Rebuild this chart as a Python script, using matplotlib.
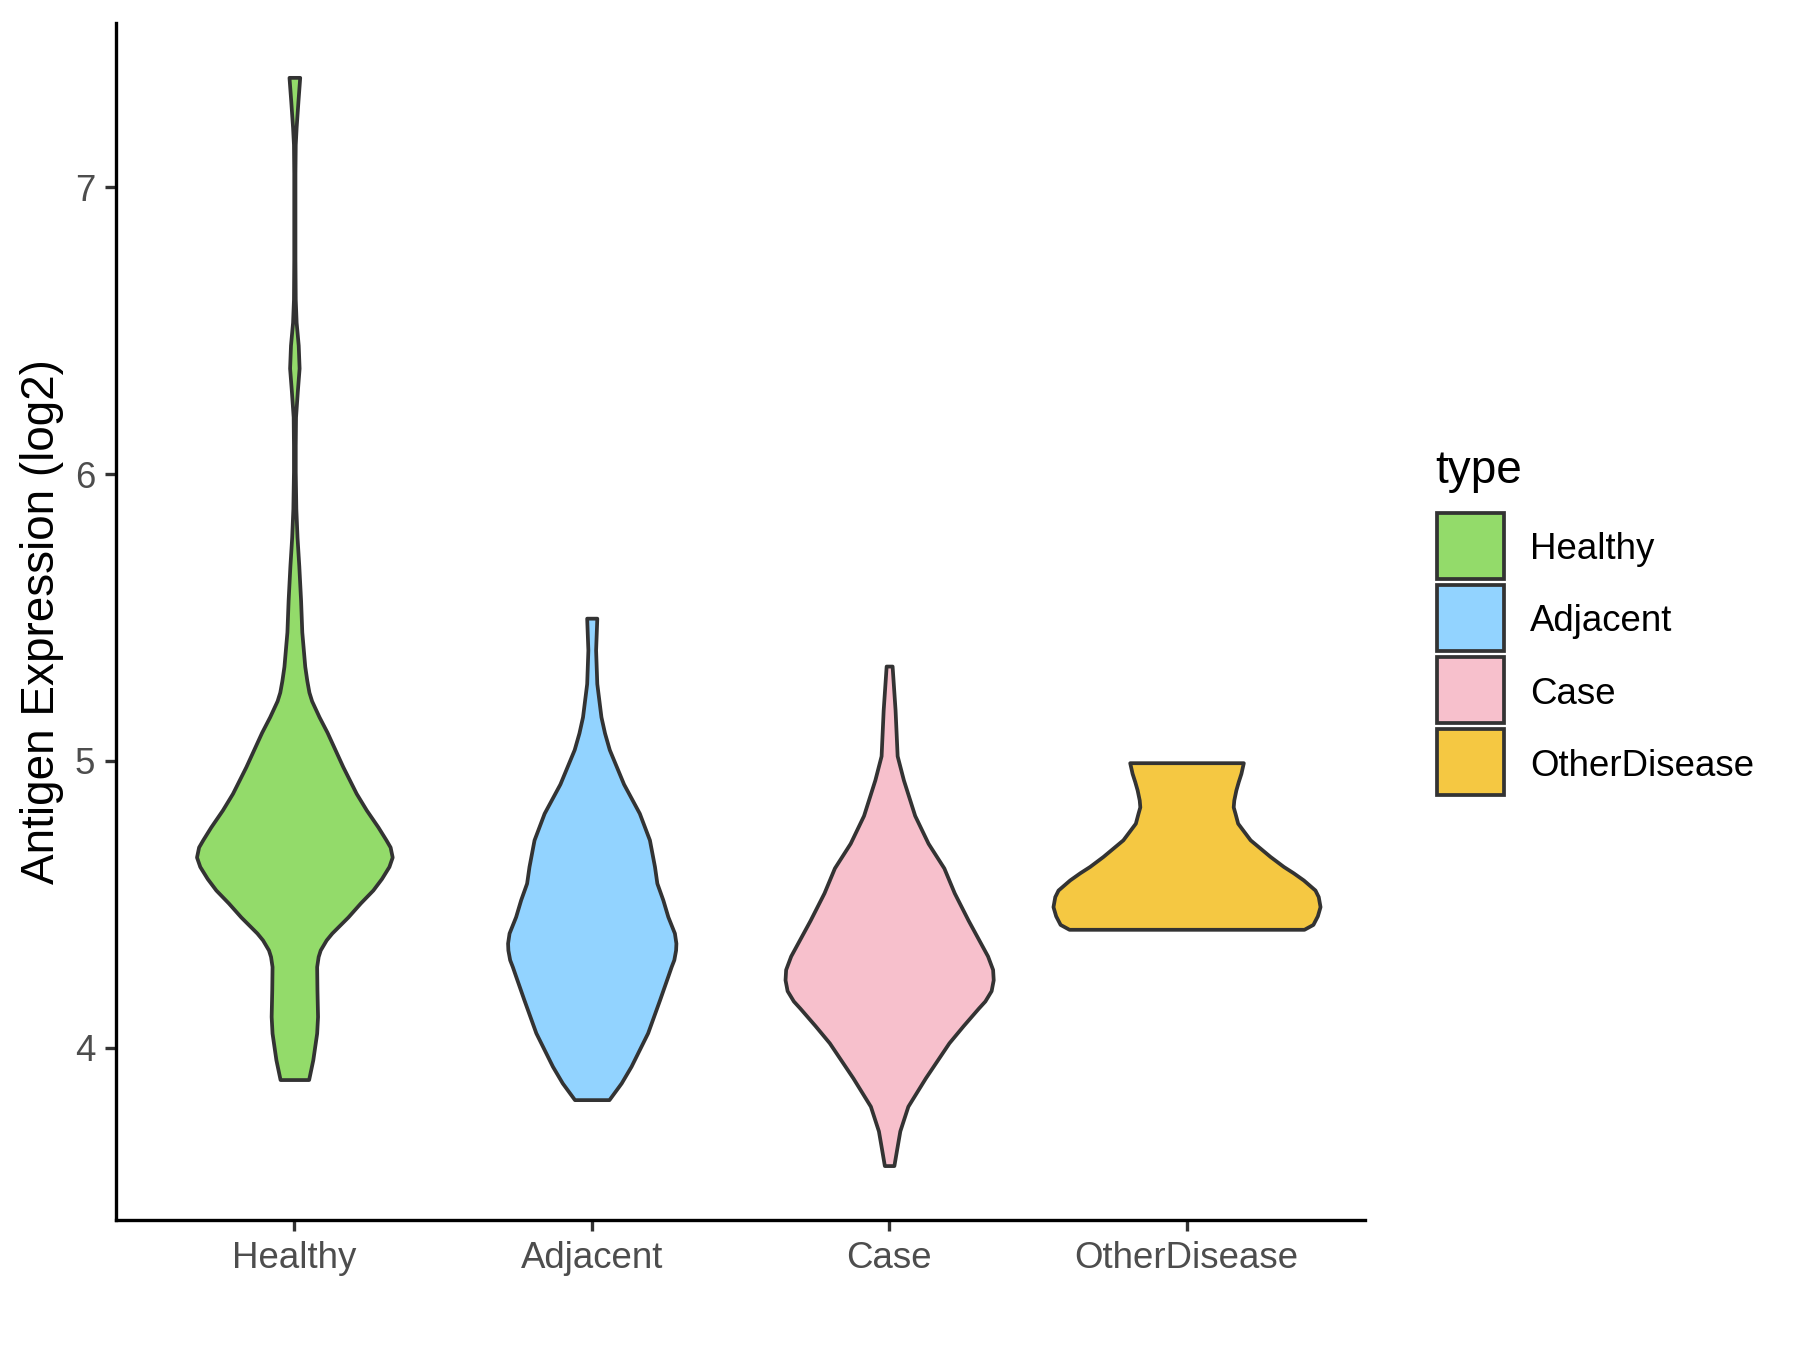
import matplotlib
matplotlib.use("Agg")
import matplotlib.pyplot as plt
from matplotlib.patches import Rectangle

plt.rcParams['font.family'] = ['Liberation Sans', 'DejaVu Sans']

groups = ["Healthy", "Adjacent", "Case", "OtherDisease"]
colors = ["#93DB6A", "#92D3FF", "#F7C0CC", "#F5C842"]

# violin outlines: expression level and half width
healthy_y = [3.889, 3.958, 4.051, 4.109, 4.202, 4.283, 4.318, 4.341, 4.376, 4.40,
             4.456, 4.505, 4.55, 4.59, 4.632, 4.665, 4.70, 4.725, 4.77, 4.829,
             4.887, 4.98, 5.10, 5.154, 5.21, 5.24, 5.28, 5.33, 5.45, 5.56,
             5.68, 5.78, 5.88, 6.01, 6.10, 6.20, 6.29, 6.37, 6.45, 6.53,
             6.61, 6.75, 6.90, 7.05, 7.15, 7.21, 7.30, 7.384]
healthy_w = [0.048, 0.062, 0.075, 0.078, 0.076, 0.075, 0.080, 0.087, 0.107, 0.126,
             0.18, 0.222, 0.264, 0.293, 0.318, 0.329, 0.322, 0.308, 0.281, 0.242,
             0.208, 0.163, 0.110, 0.083, 0.058, 0.049, 0.042, 0.035, 0.025, 0.021,
             0.015, 0.009, 0.005, 0.003, 0.003, 0.004, 0.010, 0.016, 0.013, 0.006,
             0.003, 0.002, 0.002, 0.002, 0.003, 0.006, 0.012, 0.018]

adjacent_y = [3.819, 3.877, 3.935, 4.052, 4.167, 4.25, 4.283, 4.307, 4.341, 4.365,
              4.40, 4.457, 4.516, 4.574, 4.632, 4.725, 4.818, 4.87, 4.92, 4.98,
              5.04, 5.098, 5.154, 5.27, 5.387, 5.498]
adjacent_w = [0.058, 0.099, 0.132, 0.188, 0.228, 0.256, 0.267, 0.276, 0.282, 0.283,
              0.278, 0.256, 0.239, 0.219, 0.211, 0.194, 0.160, 0.133, 0.107, 0.083,
              0.059, 0.043, 0.031, 0.017, 0.013, 0.017]

case_y = [3.589, 3.65, 3.71, 3.796, 3.895, 4.017, 4.077, 4.138, 4.163, 4.199,
          4.237, 4.273, 4.32, 4.444, 4.54, 4.627, 4.713, 4.81, 4.934, 5.018,
          5.178, 5.331]
case_w = [0.016, 0.026, 0.036, 0.063, 0.122, 0.201, 0.249, 0.300, 0.322, 0.343,
          0.350, 0.348, 0.331, 0.266, 0.219, 0.184, 0.131, 0.086, 0.048, 0.027,
          0.020, 0.010]

other_y = [4.413, 4.43, 4.46, 4.492, 4.527, 4.55, 4.585, 4.61, 4.632, 4.667,
           4.725, 4.783, 4.818, 4.84, 4.864, 4.899, 4.928, 4.957, 4.994]
other_w = [0.395, 0.425, 0.44, 0.449, 0.443, 0.432, 0.393, 0.359, 0.326, 0.281,
           0.214, 0.172, 0.163, 0.157, 0.159, 0.166, 0.174, 0.183, 0.191]

profiles = [(healthy_y, healthy_w), (adjacent_y, adjacent_w),
            (case_y, case_w), (other_y, other_w)]

fig = plt.figure(figsize=(6, 4.5), dpi=300)
ax = fig.add_axes([0.0644, 0.0963, 0.6939, 0.8867])

for i, (ys, ws) in enumerate(profiles):
    pos = i + 1
    left = [pos - w for w in ws]
    right = [pos + w for w in ws]
    ax.fill_betweenx(ys, left, right, facecolor=colors[i], edgecolor="#333333",
                     linewidth=0.9, joinstyle="round", zorder=2)

# ggplot style limits (5% padding on y, 0.6 on discrete x)
ymin = min(min(p[0]) for p in profiles)
ymax = max(max(p[0]) for p in profiles)
pad = (ymax - ymin) * 0.05
ax.set_ylim(ymin - pad, ymax + pad)
ax.set_xlim(0.4, len(groups) + 0.6)

ax.set_xticks(range(1, len(groups) + 1))
ax.set_xticklabels(groups)
ax.set_yticks([4, 5, 6, 7])
ax.tick_params(axis="both", length=2.75, width=0.8, color="#333333",
               labelsize=8.8, labelcolor="#4D4D4D")
ax.tick_params(axis="x", pad=2.2)
ax.tick_params(axis="y", pad=2.2)

for s in ["top", "right"]:
    ax.spines[s].set_visible(False)
for s in ["left", "bottom"]:
    ax.spines[s].set_linewidth(0.8)
    ax.spines[s].set_color("black")

ax.set_ylabel("Antigen Expression (log2)", fontsize=11, color="black", labelpad=2.5)

# legend drawn by hand to mimic the ggplot guide
fig.text(1435 / 1800, 1 - 471 / 1350, "type", fontsize=11, ha="left", va="center")
key_w = 67 / 1800
key_h = 66 / 1350
for i, g in enumerate(groups):
    top = 513 + i * 72
    y0 = 1 - (top + 66) / 1350
    fig.patches.append(Rectangle((1437 / 1800, y0), key_w, key_h,
                                 transform=fig.transFigure, facecolor=colors[i],
                                 edgecolor="#333333", linewidth=0.9))
    fig.text(1530 / 1800, y0 + key_h / 2 - 4 / 1350, g, fontsize=8.8,
             ha="left", va="center")

fig.savefig("out.png", dpi=300, facecolor="white")
